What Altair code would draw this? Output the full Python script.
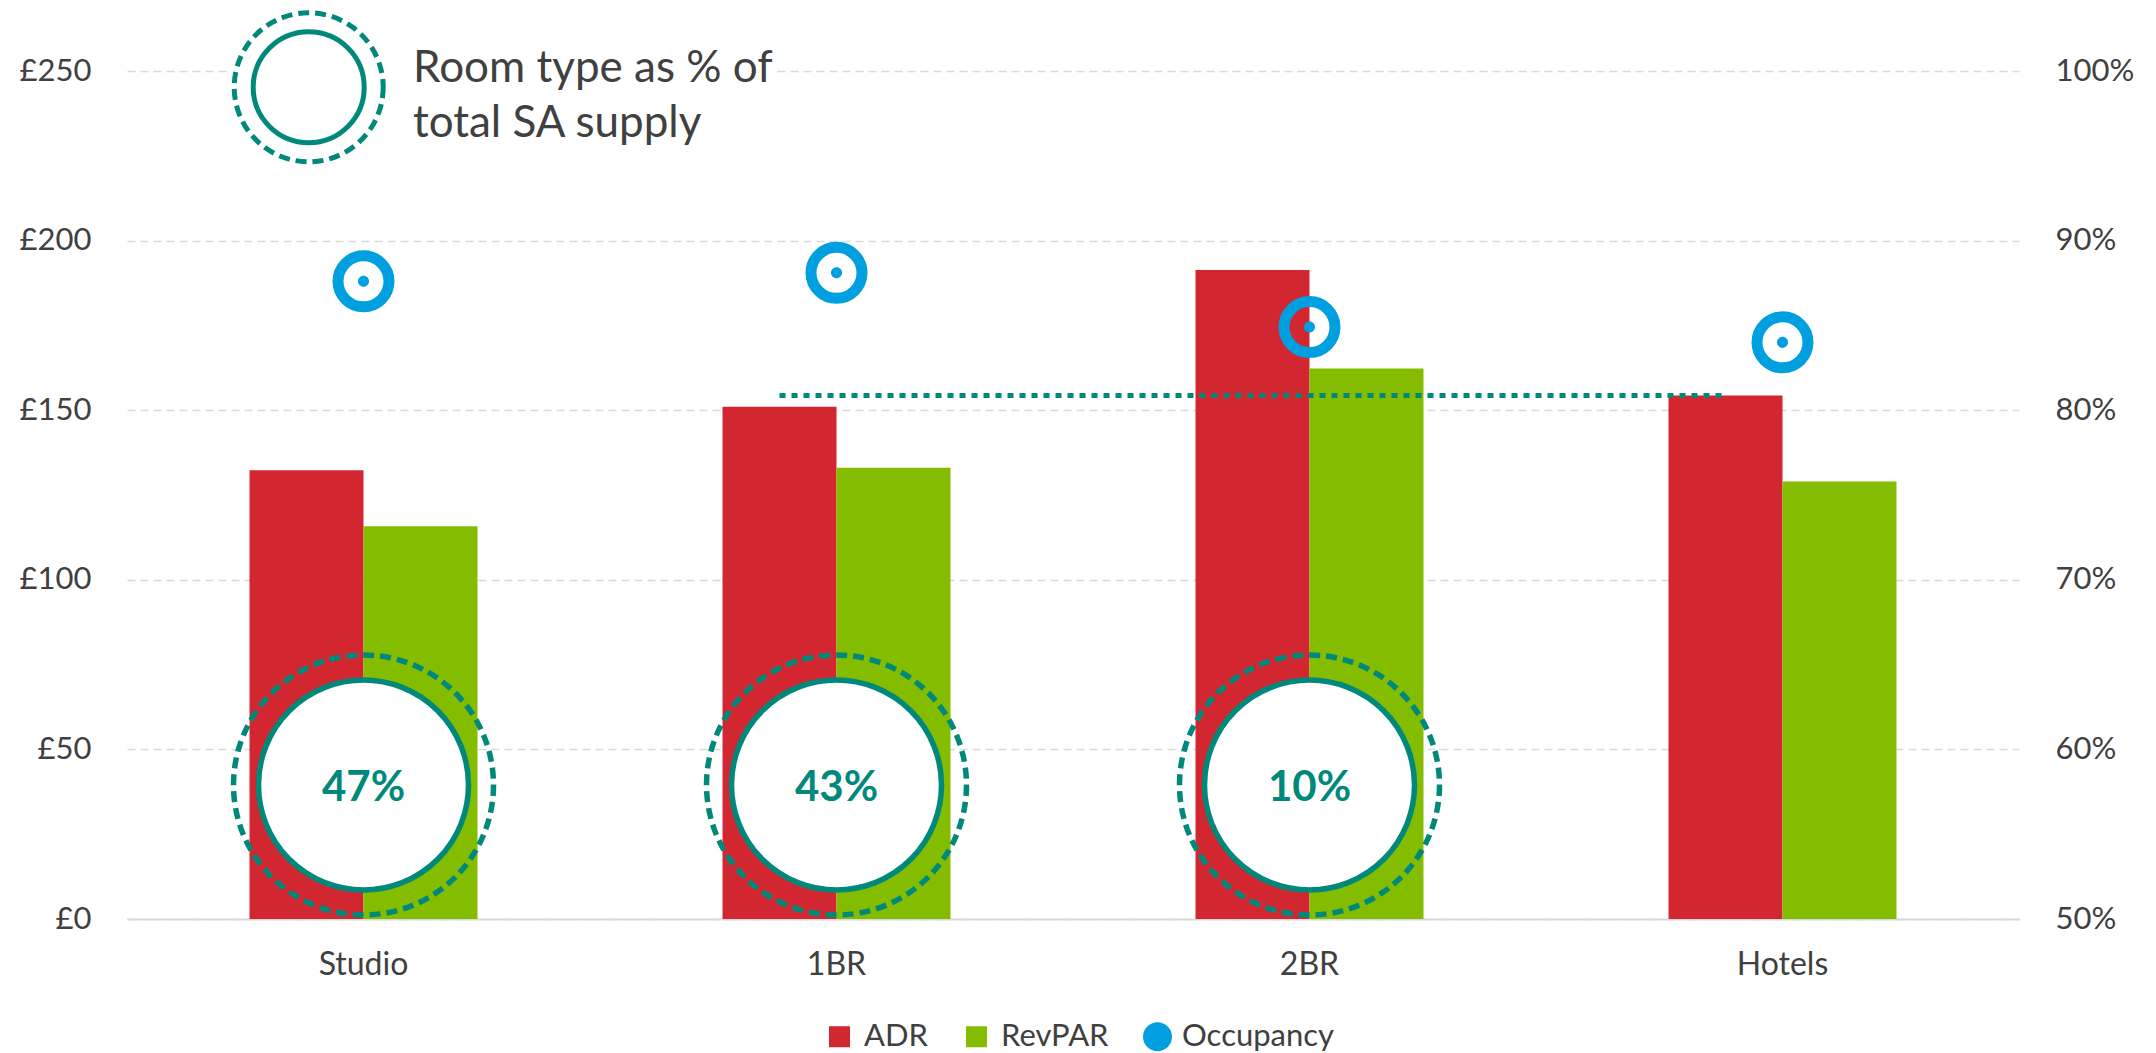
import altair as alt
import pandas as pd

# ---------------- data ----------------
categories = ["Studio", "1BR", "2BR", "Hotels"]
adr = [132.3, 151.0, 191.3, 154.3]
revpar = [115.8, 133.0, 162.3, 129.0]
occupancy = [0.876, 0.881, 0.849, 0.840]
supply_categories = ["Studio", "1BR", "2BR"]
supply_share = ["47%", "43%", "10%"]
benchmark_categories = ["1BR", "Hotels"]
benchmark_value = adr[3]
series = ["ADR", "RevPAR", "Occupancy"]
y_ticks = [0, 50, 100, 150, 200, 250]
occ_ticks = [0.5, 0.6, 0.7, 0.8, 0.9, 1.0]
key_text = ["Room type as % of", "total SA supply"]

# ---------------- styles ----------------
RED = "#D22630"
GREEN = "#84BD00"
BLUE = "#009FDF"
TEAL = "#00897B"
TXT = "#404040"
GRID = "#D9D9D9"
FONT = "Lato"
W, H = 1892, 848
CIRCLE_Y = 39.5  # anchor (in £) for the supply-share annotations

bars_df = pd.DataFrame(
    {"category": categories * 2,
     "series": ["ADR"] * 4 + ["RevPAR"] * 4,
     "value": adr + revpar}
)
occ_df = pd.DataFrame({"category": categories, "occ": occupancy, "series": ["Occupancy"] * 4})
supply_df = pd.DataFrame({"category": supply_categories, "label": supply_share, "y": [CIRCLE_Y] * 3})
bench_df = pd.DataFrame({"category": benchmark_categories, "value": [benchmark_value] * 2})
key_df = pd.DataFrame({"label": ["\n".join(key_text)]})

xscale = alt.Scale(domain=categories, paddingInner=0.518, paddingOuter=0.259)
yscale = alt.Scale(domain=[0, 250], nice=False, zero=True)
occ_scale = alt.Scale(domain=[0.5, 1.0], nice=False, zero=False)

circle_path = "M -1.38,0 A 1.38,1.38 0 1,0 1.38,0 A 1.38,1.38 0 1,0 -1.38,0 Z"
color_scale = alt.Scale(domain=series, range=[RED, GREEN, BLUE])
shape_scale = alt.Scale(domain=series, range=["square", "square", circle_path])

legend_kw = dict(
    orient="none", legendX=697, legendY=950, direction="horizontal", title=None,
    labelFont=FONT, labelFontSize=31, labelColor=TXT, symbolSize=441,
    labelOffset=9, columnPadding=33, padding=0, symbolStrokeWidth=0,
    symbolOpacity=1,
)

x_axis = alt.Axis(title=None, labelAngle=0, labelFont=FONT, labelFontSize=32,
                  labelColor=TXT, labelPadding=30, ticks=False, domain=True,
                  domainColor=GRID, domainWidth=2)
y_axis = alt.Axis(
    title=None, values=y_ticks, labelExpr="'£' + datum.value", labelFont=FONT,
    labelFontSize=31, labelColor=TXT, labelPadding=36, ticks=False, domain=False,
    grid=True, gridColor=GRID, gridDash=[8, 5], gridWidth=1.5)
occ_axis = alt.Axis(
    orient="right", title=None, values=occ_ticks, format=".0%", labelFont=FONT,
    labelFontSize=31, labelColor=TXT, labelPadding=36, ticks=False, domain=False,
    grid=False)

X = alt.X("category:N", scale=xscale, sort=categories, axis=x_axis)

bars = alt.Chart(bars_df).mark_bar(strokeWidth=0).encode(
    x=X,
    xOffset=alt.XOffset("series:N", scale=alt.Scale(domain=["ADR", "RevPAR"], paddingInner=0, paddingOuter=0)),
    y=alt.Y("value:Q", scale=yscale, axis=y_axis),
    color=alt.Color("series:N", scale=color_scale, legend=alt.Legend(**legend_kw)),
)

# white backing behind the key annotation (hides the gridline)
key_bg = alt.Chart(key_df).mark_rect(color="white").encode(
    x=alt.value(103), x2=alt.value(650), y=alt.value(-4), y2=alt.value(6)
)
key_dash = alt.Chart(key_df).mark_point(
    shape="circle", size=149 ** 2, filled=True, fill="white", stroke=TEAL,
    strokeWidth=5, strokeDash=[11, 6], opacity=1
).encode(x=alt.value(181.7), y=alt.value(16.3))
key_solid = alt.Chart(key_df).mark_point(
    shape="circle", size=111 ** 2, filled=True, fill="white", stroke=TEAL,
    strokeWidth=5, opacity=1
).encode(x=alt.value(181.7), y=alt.value(16.3))
key_label = alt.Chart(key_df).mark_text(
    align="left", baseline="alphabetic", font=FONT, fontSize=44, color=TXT,
    lineBreak="\n", lineHeight=55
).encode(x=alt.value(286), y=alt.value(11), text="label:N")

dash_circles = alt.Chart(supply_df).mark_point(
    shape="circle", size=260 ** 2, filled=False, stroke=TEAL,
    strokeWidth=5.5, strokeDash=[11, 6], opacity=1
).encode(x=X, y=alt.Y("y:Q", scale=yscale, axis=y_axis))
solid_circles = alt.Chart(supply_df).mark_point(
    shape="circle", size=210 ** 2, filled=True, fill="white", stroke=TEAL,
    strokeWidth=5.5, opacity=1
).encode(x=X, y=alt.Y("y:Q", scale=yscale, axis=y_axis))
share_text = alt.Chart(supply_df).mark_text(
    font=FONT, fontWeight="bold", fontSize=42, color=TEAL, baseline="middle", dy=3
).encode(x=X, y=alt.Y("y:Q", scale=yscale, axis=y_axis), text="label:N")
bench = alt.Chart(bench_df).mark_line(
    color=TEAL, strokeWidth=5, strokeDash=[6, 6], strokeCap="butt"
).encode(
    x=alt.X("category:N", scale=xscale, sort=categories, axis=x_axis, bandPosition=0.25),
    y=alt.Y("value:Q", scale=yscale, axis=y_axis),
)

left = alt.layer(bars, key_bg, key_dash, key_solid, key_label,
                 dash_circles, solid_circles, share_text, bench)

ring = alt.Chart(occ_df).mark_point(
    shape="circle", filled=False, size=51 ** 2, strokeWidth=11,
    stroke=BLUE, opacity=1
).encode(x=X, y=alt.Y("occ:Q", scale=occ_scale, axis=occ_axis))
dot = alt.Chart(occ_df).mark_point(filled=True, size=64, opacity=1).encode(
    x=X,
    y=alt.Y("occ:Q", scale=occ_scale, axis=occ_axis),
    color=alt.Color("series:N", scale=color_scale, legend=alt.Legend(**legend_kw)),
    shape=alt.Shape("series:N", scale=shape_scale, legend=alt.Legend(**legend_kw)),
)
right = alt.layer(ring, dot)

chart = alt.layer(left, right).resolve_scale(y="independent").properties(
    width=W, height=H,
    autosize=alt.AutoSizeParams(type="none"),
    padding={"left": 127, "top": 71, "right": 137, "bottom": 134},
    background="white",
).configure_view(stroke=None)

chart.save("out.html", embed_options={"renderer": "svg", "actions": False})
